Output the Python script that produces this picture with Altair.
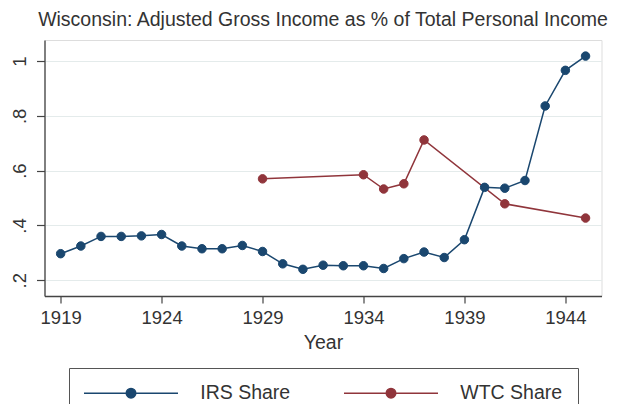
import altair as alt
import pandas as pd

# ---- data ----
years = list(range(1919, 1946))
irs_share = [0.297, 0.325, 0.360, 0.360, 0.362, 0.367, 0.325, 0.315, 0.315,
             0.327, 0.305, 0.260, 0.240, 0.255, 0.253, 0.253, 0.243, 0.279,
             0.303, 0.283, 0.348, 0.539, 0.536, 0.564, 0.836, 0.966, 1.018]
wtc_years = [1929, 1934, 1935, 1936, 1937, 1941, 1945]
wtc_share = [0.570, 0.585, 0.533, 0.552, 0.712, 0.479, 0.427]

series_names = ["IRS Share", "WTC Share"]
series_colors = ["#1a476f", "#90353b"]
x_ticks = [1919, 1924, 1929, 1934, 1939, 1944]
y_ticks = [0.2, 0.4, 0.6, 0.8, 1.0]

df = pd.DataFrame({
    "Year": years + wtc_years,
    "Share": irs_share + wtc_share,
    "Series": [series_names[0]] * len(years) + [series_names[1]] * len(wtc_years),
})

FONT = "Liberation Sans"
TXT = "#333333"

# legend symbol (unit = 5 px): a line with a filled circle in the middle
half = 9.4
r = 0.95
sym = (f"M-{half},0L{half},0M{r},0A{r},{r},0,1,1,-{r},0A{r},{r},0,1,1,{r},0Z")

legend = alt.Legend(
    title=None, orient="none", legendX=24.5, legendY=328,
    direction="horizontal", symbolType=sym, symbolSize=100,
    symbolStrokeWidth=1.5, symbolOpacity=1, symbolOffset=37.25,
    labelFont=FONT, labelFontSize=19.5, labelColor=TXT, labelOffset=59.5,
    columnPadding=50, padding=15, strokeColor="#555555", fillColor="white",
)

color_scale = alt.Scale(domain=series_names, range=series_colors)
# same mapping, listed in the other order (keeps the line scale apart from the legend)
line_scale = alt.Scale(domain=series_names[::-1], range=series_colors[::-1])

x_enc = alt.X(
    "Year:Q",
    scale=alt.Scale(domain=[1918.2, 1945.79], nice=False, zero=False),
    axis=alt.Axis(values=x_ticks, format="d", grid=False, title="Year",
                  tickSize=7, tickColor="#444444", domainColor="#444444",
                  domainWidth=1.3, tickWidth=1.2,
                  labelFont=FONT, labelFontSize=18.5, labelColor=TXT,
                  labelPadding=5, titleFont=FONT, titleFontSize=19.5,
                  titleFontWeight="normal", titleColor=TXT, titlePadding=7),
)
y_enc = alt.Y(
    "Share:Q",
    scale=alt.Scale(domain=[0.1426, 1.0767], nice=False, zero=False),
    axis=alt.Axis(values=y_ticks, title=None, grid=True, gridColor="#e4ebeb",
                  gridWidth=1.2,
                  labelExpr="replace(format(datum.value, '.1~f'), '0.', '.')",
                  labelAngle=270, labelAlign="center", labelBaseline="bottom",
                  tickSize=8, tickColor="#444444", domainColor="#444444",
                  domainWidth=1.3, tickWidth=1.2,
                  labelFont=FONT, labelFontSize=18.5, labelColor=TXT,
                  labelPadding=7),
)

base = alt.Chart(df).encode(x=x_enc, y=y_enc)

lines = base.mark_line(strokeWidth=1.5).encode(
    color=alt.Color("Series:N", scale=line_scale, legend=None),
)
points = base.mark_point(filled=True, size=72, opacity=1, strokeWidth=1).encode(
    fill=alt.Fill("Series:N", scale=color_scale, legend=legend),
    stroke=alt.Stroke("Series:N", scale=color_scale, legend=legend),
)

chart = alt.layer(lines, points).properties(
    width=557, height=256,
    title=alt.TitleParams(
        "Wisconsin: Adjusted Gross Income as % of Total Personal Income",
        font=FONT, fontSize=19.5, fontWeight="normal", color=TXT,
        anchor="middle", frame="group", offset=10),
    autosize=alt.AutoSizeParams(type="none"),
    padding={"left": 36.5, "top": 32, "right": 12.5, "bottom": 108},
).configure_view(stroke=None).configure(background="white")

chart.save("out.html", embed_options={"renderer": "svg", "actions": False})
